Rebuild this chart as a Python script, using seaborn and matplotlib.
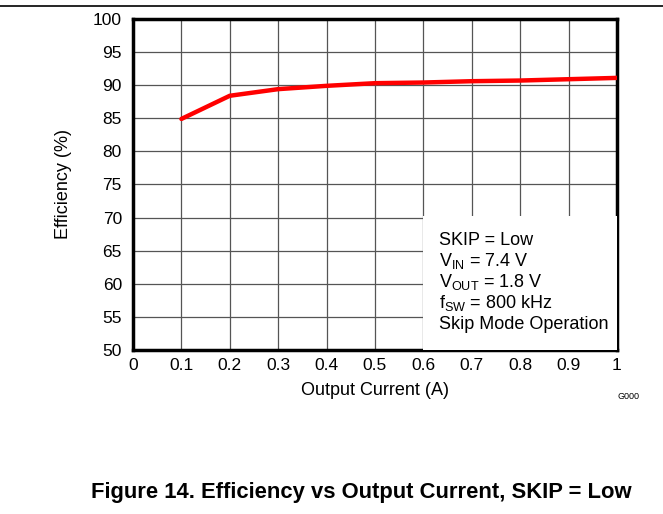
import numpy as np
import pandas as pd
import seaborn as sns
import matplotlib.pyplot as plt
from matplotlib.patches import Rectangle

current = [0.1, 0.2, 0.3, 0.4, 0.5, 0.6, 0.7, 0.8, 0.9, 1.0]
efficiency = [84.9, 88.4, 89.4, 89.9, 90.3, 90.4, 90.6, 90.7, 90.9, 91.1]
x_ticks = [0, 0.1, 0.2, 0.3, 0.4, 0.5, 0.6, 0.7, 0.8, 0.9, 1]
x_labels = ["0", "0.1", "0.2", "0.3", "0.4", "0.5", "0.6", "0.7", "0.8", "0.9", "1"]
y_ticks = list(range(50, 101, 5))
conditions = [
    "SKIP = Low",
    "$\\mathregular{V_{IN}}$ = 7.4 V",
    "$\\mathregular{V_{OUT}}$ = 1.8 V",
    "$\\mathregular{f_{SW}}$ = 800 kHz",
    "Skip Mode Operation",
]

df = pd.DataFrame({"current": current, "efficiency": efficiency})

sns.set_style("white")
plt.rcParams['font.family'] = ['Liberation Sans', 'DejaVu Sans']
plt.rcParams['text.color'] = 'black'
plt.rcParams['axes.labelcolor'] = 'black'

fig = plt.figure(figsize=(6.63, 5.14), dpi=100)
ax = fig.add_axes([0.2006, 0.3191, 0.7300, 0.6440])

sns.lineplot(data=df, x="current", y="efficiency", color="#ff0000",
             linewidth=3.2, ax=ax, zorder=5)

ax.set_xlim(0, 1)
ax.set_ylim(50, 100)
ax.set_xticks(x_ticks)
ax.set_xticklabels(x_labels)
ax.set_yticks(y_ticks)
ax.grid(True, color="#555555", linewidth=0.9)
ax.tick_params(labelsize=12.5, length=0, colors="black")
ax.tick_params(axis="x", pad=6)
ax.tick_params(axis="y", pad=8)
for s in ax.spines.values():
    s.set_linewidth(2.5)
    s.set_color("black")

# white box hiding the grid behind the conditions text
ax.add_patch(Rectangle((0.6, 50), 0.4, 20.2, facecolor="white",
                       edgecolor="none", zorder=3))
# one line per condition, evenly spaced baselines
for i, line in enumerate(conditions):
    ax.text(0.632, 65.8 - i * 3.17, line, fontsize=13, va="baseline",
            ha="left", zorder=6)

ax.set_xlabel("Output Current (A)", fontsize=13, labelpad=6)
ax.set_ylabel("Efficiency (%)", fontsize=13, labelpad=15)

fig.text(0.965, 0.228, "G000", fontsize=6.5, ha="right", va="center")
fig.add_artist(plt.Line2D([0, 1], [0.988, 0.988], color="black", linewidth=1.2))
fig.text(0.545, 0.041, "Figure 14. Efficiency vs Output Current, SKIP = Low",
         fontsize=15.8, fontweight="bold", ha="center", va="center")

fig.savefig("out.png", dpi=100)
